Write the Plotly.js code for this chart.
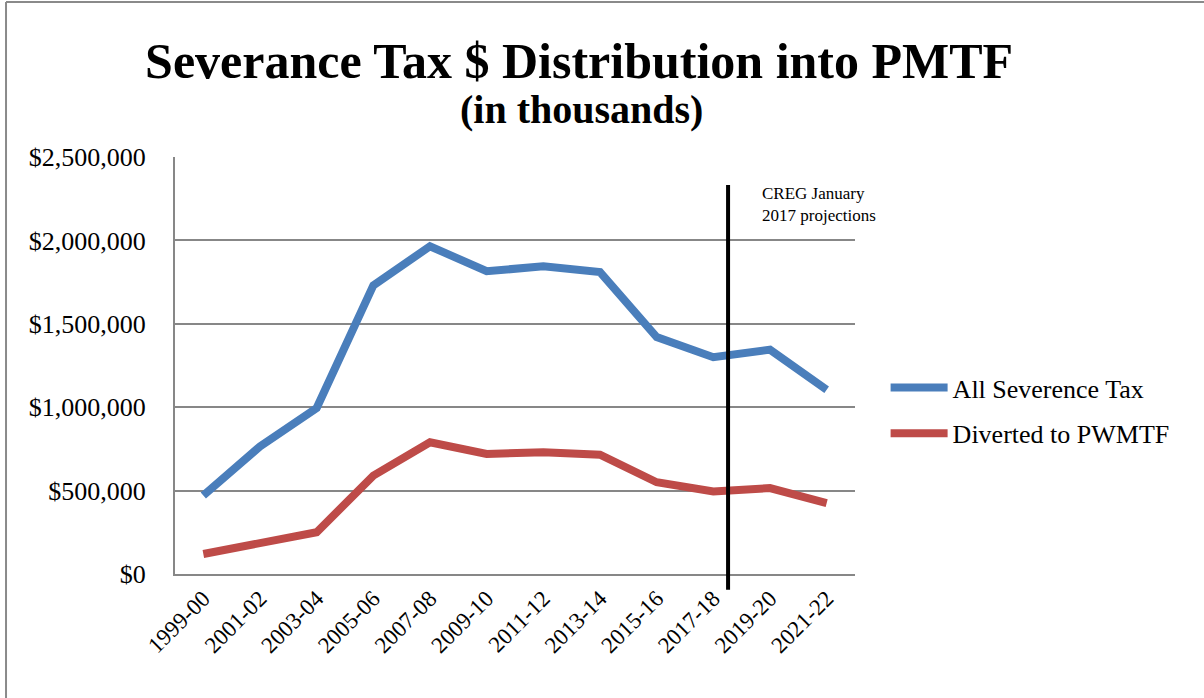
<!DOCTYPE html>
<html>
<head>
<meta charset="utf-8">
<script src="https://cdn.plot.ly/plotly-3.0.1.min.js"></script>
<style>html,body{margin:0;padding:0;background:#fff;}#chart{width:1204px;height:698px;}</style>
</head>
<body>
<div id="chart"></div>
<script>
const categories = ["1999-00","2001-02","2003-04","2005-06","2007-08","2009-10","2011-12","2013-14","2015-16","2017-18","2019-20","2021-22"];
const allSeveranceTax = [470000, 765000, 995000, 1730000, 1965000, 1815000, 1845000, 1810000, 1420000, 1300000, 1345000, 1105000];
const divertedToPWMTF = [120000, 190000, 250000, 590000, 790000, 720000, 730000, 715000, 550000, 495000, 515000, 425000];
const yTickValues = [0, 500000, 1000000, 1500000, 2000000, 2500000];
const yTickLabels = ["$0","$500,000","$1,000,000","$1,500,000","$2,000,000","$2,500,000"];
const projectionPosition = 9.26;

const serif = "Liberation Serif, Times New Roman, serif";

const traces = [
  {x: categories, y: allSeveranceTax, name: "All Severence Tax", type: "scatter", mode: "lines",
   line: {color: "#4A7EBB", width: 8}, legendgroup: "a"},
  {x: categories, y: divertedToPWMTF, name: "Diverted to PWMTF", type: "scatter", mode: "lines",
   line: {color: "#BE4B48", width: 8}, legendgroup: "b"}
];

const layout = {
  width: 1204, height: 698,
  margin: {l: 175, r: 349, t: 157, b: 124},
  paper_bgcolor: "#ffffff", plot_bgcolor: "#ffffff",
  font: {family: serif, color: "#000"},
  title: {text: "<b>Severance Tax $ Distribution into PMTF</b>", font: {family: serif, size: 50, color: "#000"},
          xref: "container", x: 0.481, xanchor: "center", yref: "container", y: 0.914, yanchor: "middle"},
  xaxis: {type: "category", range: [-0.5, 11.5], tickangle: -45, tickfont: {family: serif, size: 23},
          showgrid: false, showline: true, linecolor: "#878787", linewidth: 2, ticks: "", fixedrange: true},
  yaxis: {range: [0, 2500000], tickvals: yTickValues, ticktext: yTickLabels, tickfont: {family: serif, size: 26},
          showgrid: true, gridcolor: "#878787", gridwidth: 2, showline: true, linecolor: "#878787", linewidth: 2,
          zeroline: false, ticks: "", ticklabelstandoff: 22, fixedrange: true},
  showlegend: true,
  legend: {x: 1.045, xanchor: "left", y: 0.392, yanchor: "middle", font: {family: serif, size: 26},
           tracegroupgap: 9, itemwidth: 57, bgcolor: "rgba(0,0,0,0)"},
  shapes: [
    {type: "line", xref: "x", yref: "paper", x0: projectionPosition, x1: projectionPosition, y0: -0.038, y1: 0.933,
     line: {color: "#000", width: 4}},
    {type: "line", xref: "paper", yref: "paper", x0: -0.2485, x1: 1.52, y0: 1.3717, y1: 1.3717, line: {color: "#8a8a8a", width: 2}},
    {type: "line", xref: "paper", yref: "paper", x0: -0.2485, x1: -0.2485, y0: 1.3717, y1: -0.35, line: {color: "#8a8a8a", width: 2}}
  ],
  annotations: [
    {text: "<b>(in thousands)</b>", xref: "paper", yref: "paper", x: 0.598, y: 1.056, xanchor: "center", yanchor: "bottom",
     showarrow: false, font: {family: serif, size: 40, color: "#000"}},
    {text: "CREG January<br>2017 projections", xref: "x", yref: "paper", x: projectionPosition, xshift: 32, y: 0.94,
     xanchor: "left", yanchor: "top", align: "left", showarrow: false, font: {family: serif, size: 17, color: "#000"}}
  ]
};

Plotly.newPlot("chart", traces, layout, {displayModeBar: false, staticPlot: true});
</script>
</body>
</html>
